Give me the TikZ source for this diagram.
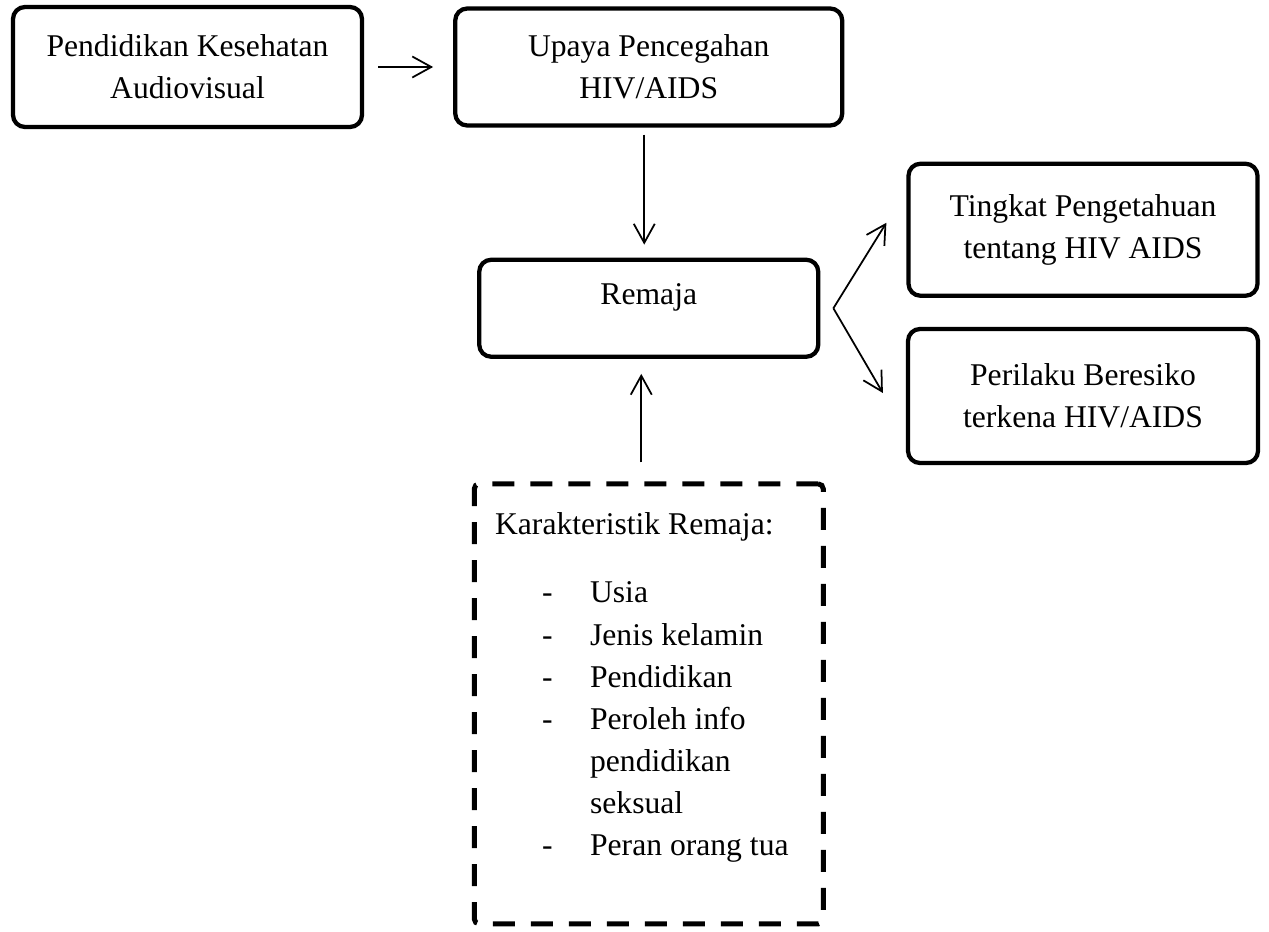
\documentclass[tikz,border=0pt]{standalone}
\usepackage{fontspec}
\setmainfont{Liberation Serif}
\usetikzlibrary{positioning,arrows.meta}
\newcommand{\karitem}[1]{\hspace*{0.94cm}\makebox[0.96cm][l]{-}#1}

\begin{document}
\begin{tikzpicture}[every node/.style={font=\fontsize{18}{24}\selectfont},
        box/.style={draw,rectangle,rounded corners=0.24cm,line width=0.085cm,inner sep=0pt,align=center},
        dashbox/.style={draw,rectangle,rounded corners=0.1cm,line width=0.1cm,dash pattern=on 0.44cm off 0.32cm,inner sep=0pt},
        arr/.style={line width=1pt,-{Straight Barb[length=0.38cm,width=0.42cm]}}]
   \useasboundingbox (0,0) rectangle (25.38,-18.62);
   \node (pend) [box,minimum width=6.98cm,minimum height=2.4cm] at (3.75,-1.34) {Pendidikan Kesehatan\\Audiovisual};
   \node (upaya) [box,minimum width=7.74cm,minimum height=2.34cm,right=1.78cm of pend] {Upaya Pencegahan\\HIV/AIDS};
   \draw[arr,shorten <=0.28cm,shorten >=0.4cm] (pend) -- (upaya);

   \node (remaja) [box,minimum width=6.78cm,minimum height=1.94cm,text depth=0.55cm,below=2.6cm of upaya] {Remaja};
   \draw[arr,shorten <=0.14cm,shorten >=0.26cm] ([xshift=-0.09cm]upaya.south) -- ([xshift=-0.09cm]remaja.north);

   \node (tingkat) [box,minimum width=6.98cm,minimum height=2.64cm,right=1.72cm of remaja,yshift=1.57cm] {Tingkat Pengetahuan\\tentang HIV AIDS};
   \node (perilaku) [box,minimum width=7cm,minimum height=2.68cm,below=0.58cm of tingkat] {Perilaku Beresiko\\terkena HIV/AIDS};
   \coordinate (fork) at ([xshift=0.26cm]remaja.east);
   \coordinate (tipa) at ([xshift=-0.4cm,yshift=0.14cm]tingkat.west);
   \coordinate (tipb) at ([xshift=-0.46cm,yshift=0.06cm]perilaku.west);
   \draw[arr] (fork) -- (tipa);
   \draw[arr] (fork) -- (tipb);

   \node (karak) [dashbox,minimum width=6.98cm,minimum height=8.8cm,below=2.45cm of remaja] {};
   \node (karakisi) [anchor=north west,inner sep=0pt,align=left] at ([xshift=0.46cm,yshift=-0.62cm]karak.north west)
      {Karakteristik Remaja:\\[0.52cm]
       \karitem{Usia}\\
       \karitem{Jenis kelamin}\\
       \karitem{Pendidikan}\\
       \karitem{Peroleh info}\\
       \hspace*{1.9cm}pendidikan\\
       \hspace*{1.9cm}seksual\\
       \karitem{Peran orang tua}};
   \draw[arr,shorten <=0.38cm,shorten >=0.3cm] ([xshift=-0.15cm]karak.north) -- ([xshift=-0.15cm]remaja.south);
\end{tikzpicture}
\end{document}
